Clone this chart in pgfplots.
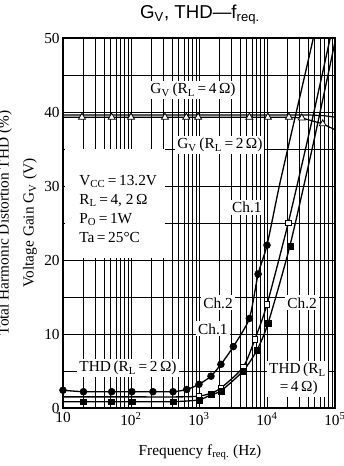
\documentclass[border=0pt]{standalone}
\usepackage{pgfplots}
\pgfplotsset{compat=1.18}
\usepackage{fontspec}
\setmainfont{Liberation Serif}
\newfontfamily\titlefont{Liberation Sans}
\begin{document}
\begin{tikzpicture}
\begin{axis}[
  at={(0pt,0pt)}, anchor=south west,
  scale only axis, width=204pt, height=277.5pt,
  xmode=log, log basis x=10,
  xmin=10, xmax=100000, ymin=0, ymax=50,
  xtick={10,100,1000,10000,100000},
  xticklabels={10,10\textsuperscript{2},10\textsuperscript{3},10\textsuperscript{4},10\textsuperscript{5}},
  minor xtick={20,30,40,50,60,70,80,90,200,300,400,500,600,700,800,900,2000,3000,4000,5000,6000,7000,8000,9000,20000,30000,40000,50000,60000,70000,80000,90000},
  ytick={0,10,20,30,40,50},
  minor ytick={5,15,25,35,45},
  grid=both,
  major grid style={black, line width=0.6pt},
  minor grid style={black, line width=0.5pt},
  axis line style={line width=1.7pt},
  tick style={draw=none},
  tick label style={font=\fontsize{11.5}{13}\selectfont},
  yticklabel style={xshift=1pt},
  /pgf/number format/assume math mode=true,
  clip=true,
]
% white label boxes
\fill[white] (rel axis cs:0.006,0.405) rectangle (rel axis cs:0.375,0.70);
\node[anchor=west, align=left, font=\fontsize{11.5}{14.25}\selectfont, inner sep=0pt] at (rel axis cs:0.059,0.538)
  {V\textsubscript{CC}\,=\,13.2V\\R\textsubscript{L}\,=\,4, 2\,Ω\\P\textsubscript{O}\,=\,1W\\Ta\,=\,25°C};
\node[fill=white, inner sep=1.5pt, font=\fontsize{11.5}{13}\selectfont] at (rel axis cs:0.478,0.859) {G\textsubscript{V}\,(R\textsubscript{L}\,=\,4\,Ω)};
\node[fill=white, inner sep=1.5pt, font=\fontsize{11.5}{13}\selectfont] at (rel axis cs:0.577,0.711) {G\textsubscript{V}\,(R\textsubscript{L}\,=\,2\,Ω)};
\node[fill=white, inner sep=1.5pt, font=\fontsize{11.5}{13}\selectfont] at (rel axis cs:0.676,0.543) {Ch.1};
\node[fill=white, inner sep=1.5pt, font=\fontsize{11.5}{13}\selectfont] at (rel axis cs:0.570,0.284) {Ch.2};
\node[fill=white, inner sep=1.5pt, font=\fontsize{11.5}{13}\selectfont] at (rel axis cs:0.551,0.214) {Ch.1};
\node[fill=white, inner sep=1.5pt, font=\fontsize{11.5}{13}\selectfont] at (rel axis cs:0.879,0.284) {Ch.2};
\node[fill=white, inner sep=1.5pt, font=\fontsize{11.5}{13}\selectfont] at (rel axis cs:0.239,0.108) {THD\,(R\textsubscript{L}\,=\,2\,Ω)};
\node[fill=white, inner sep=1.5pt, align=center, font=\fontsize{11.5}{13.5}\selectfont] at (rel axis cs:0.862,0.078) {THD\,(R\textsubscript{L}\\\,=\,4\,Ω)};

% Voltage gain, R_L = 4 ohm (upper line)
\addplot[black, line width=0.9pt] coordinates {
 (10,39.6) (1000,39.6) (10000,39.6) (40000,39.6) (70000,39.5) (100000,39.3)};
% Voltage gain, R_L = 2 ohm (triangles)
\addplot[black, line width=0.9pt, mark=triangle*, mark indices={2,3,4,5,6,7,8,9,10,11,12}, mark options={fill=white, solid, line width=0.6pt}, mark size=3pt]
 coordinates {
 (10,39.3) (19,39.3) (52,39.3) (100,39.3) (316,39.3) (650,39.3) (970,39.3) (5500,39.3) (10300,39.3) (21000,39.3) (32500,39.2) (66000,38.4) (100000,37.6)};

% THD R_L = 2 ohm (filled circles)
\addplot[black, line width=1pt, smooth, tension=0.4] coordinates {
 (10,2.4) (20,2.2) (52,2.2) (103,2.2) (210,2.2) (415,2.2) (660,2.5) (1000,3.2) (1500,4.3) (2100,5.9) (3200,8.3) (5500,12.1) (7400,18.1) (10000,22.0) (15500,30.4) (27000,40.0) (48000,50.0) (52000,52)};
\addplot[only marks, mark=*, mark size=2.6pt, black] coordinates {
 (10,2.4) (20,2.2) (52,2.2) (103,2.2) (210,2.2) (415,2.2) (660,2.5) (1000,3.2) (1500,4.3) (2100,5.9) (3200,8.3) (5500,12.1) (7400,18.1) (10000,22.0)};

% THD R_L = 4 ohm, open squares
\addplot[black, line width=1pt, smooth, tension=0.4] coordinates {
 (10,1.5) (100,1.5) (500,1.5) (1000,1.6) (1500,2.0) (2100,2.7) (4450,5.5) (6650,9.3) (10000,14.0) (20500,25.0) (45000,38.5) (85000,50.0) (90000,51)};
\addplot[only marks, mark=square*, mark size=2.2pt, mark options={fill=white, line width=0.7pt}, black] coordinates {
 (1000,1.6) (2100,2.7) (4450,5.5) (6650,9.3) (10000,14.0) (20500,25.0)};

% THD R_L = 4 ohm, filled squares
\addplot[black, line width=1pt, smooth, tension=0.4] coordinates {
 (10,0.85) (20,0.85) (52,0.85) (103,0.85) (415,0.85) (1000,1.1) (1500,1.8) (2100,2.3) (4450,5.0) (7100,7.8) (10400,11.5) (21700,21.9) (50000,36.5) (100000,49.5)};
\addplot[only marks, mark=square*, mark size=2.2pt, black] coordinates {
 (20,0.85) (52,0.85) (103,0.85) (415,0.85) (1000,1.1) (1500,1.8) (2100,2.3) (4450,5.0) (7100,7.8) (10400,11.5) (21700,21.9)};
\end{axis}
% titles and labels
\node[font=\titlefont\fontsize{14}{16}\selectfont] at (102.75pt,294.75pt) {G\textsubscript{V}, THD—f\textsubscript{req.}};
\node[font=\fontsize{11.5}{13}\selectfont] at (102.75pt,-33pt) {Frequency f\textsubscript{req.} (Hz)};
\node[rotate=90, font=\fontsize{11.5}{13}\selectfont] at (-24.75pt,138.75pt) {Voltage Gain G\textsubscript{V} (V)};
\node[rotate=90, font=\fontsize{11.5}{13}\selectfont] at (-43.5pt,138.75pt) {Total Harmonic Distortion THD (\%)};
\pgfresetboundingbox
\useasboundingbox (-47.25pt,-43.5pt) rectangle (210pt,306pt);
\end{tikzpicture}
\end{document}
